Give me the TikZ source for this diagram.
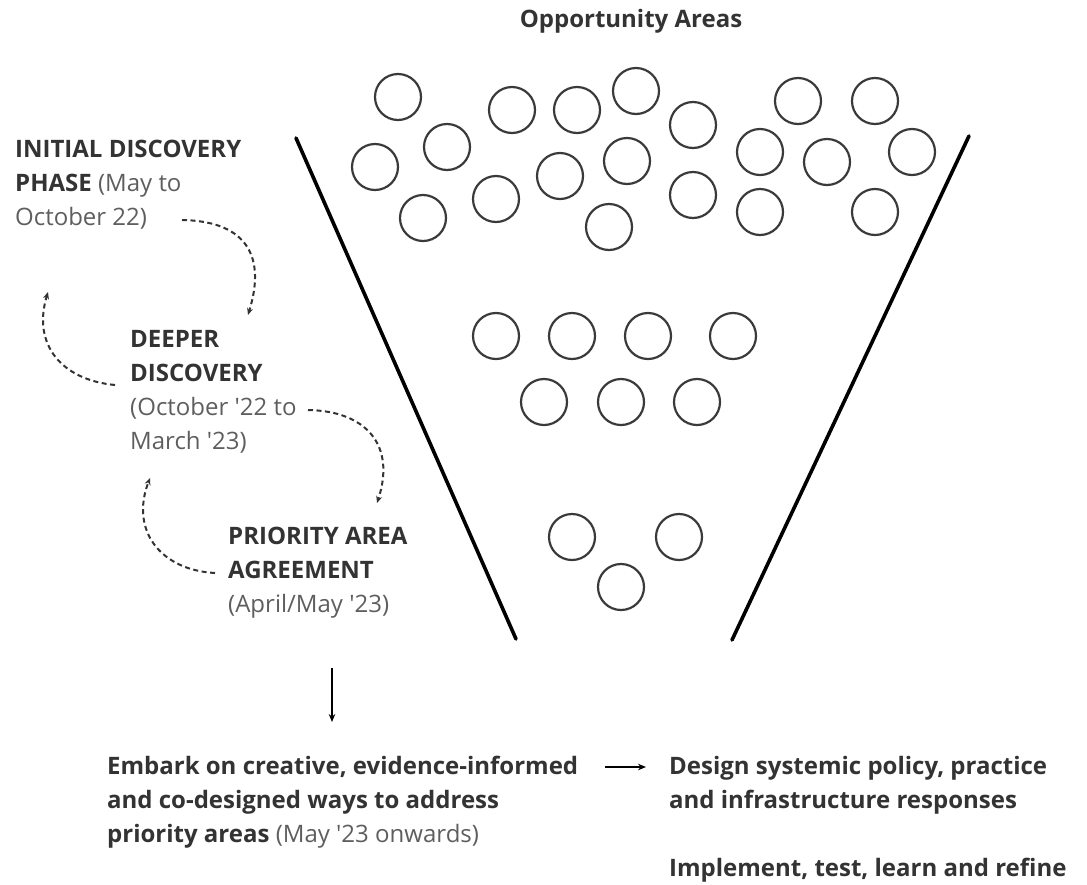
\documentclass[tikz,border=0pt]{standalone}
\usepackage{fontspec}
\setmainfont{Open Sans}
\usetikzlibrary{arrows.meta}
\definecolor{ink}{HTML}{333333}
\definecolor{soft}{HTML}{5E5E5E}
\definecolor{ring}{HTML}{3A3A3A}
\newcommand{\q}{\textquotesingle}
\begin{document}
\begin{tikzpicture}[x=1pt,y=-1pt,
  txt/.style={anchor=base west,align=left,inner sep=0pt,text=ink,font=\fontsize{24}{34}\selectfont},
  opp/.style={circle,draw=ring,line width=2.2pt,minimum size=46pt,inner sep=0pt},
  funnel/.style={line width=3.6pt,line cap=round,black},
  loop/.style={dash pattern=on 5pt off 3.5pt,line width=2pt,ink,-{Stealth[length=7pt,width=6pt]}},
  flow/.style={line width=1.6pt,black,-{Stealth[length=8pt,width=6.5pt]}}]
\useasboundingbox (0,0) rectangle (1087,884);
% title
\node[anchor=base,inner sep=0pt,text=ink,font=\fontsize{24}{34}\selectfont\bfseries] (title) at (631,27) {Opportunity Areas};
% funnel
\coordinate (fl1) at (296,138);
\coordinate (fl2) at (516,639);
\coordinate (fr1) at (969,136);
\coordinate (fr2) at (732,640);
\draw[funnel] (fl1) -- (fl2);
\draw[funnel] (fr1) -- (fr2);
% top circles
\foreach \n/\x/\y in {1/398/97,2/512/110,3/577/110,4/636/91,5/693/125,6/798/101,7/875/101,
  8/375/167,9/447/147,10/560/176,11/627/161,12/760/152,13/827/162,14/912/152,
  15/423/218,16/496/199,17/609/227,18/693/195,19/760/212,20/875/212}
  \node[opp] (t\n) at (\x,\y) {};
% middle circles
\foreach \n/\x/\y in {1/496/336,2/572/336,3/648/336,4/733/336,5/544/402,6/621/402,7/697/402}
  \node[opp] (m\n) at (\x,\y) {};
% bottom circles
\foreach \n/\x/\y in {1/572/537,2/679/537,3/621/587}
  \node[opp] (b\n) at (\x,\y) {};
% phase texts (anchored at the baseline of their last line)
\node[txt] (initial) at (15,225) {\textbf{INITIAL DISCOVERY}\\\textbf{PHASE} \textcolor{soft}{(May to}\\\textcolor{soft}{October 22)}};
\node[txt] (deeper) at (130,449) {\textbf{DEEPER}\\\textbf{DISCOVERY}\\\textcolor{soft}{(October \q22 to}\\\textcolor{soft}{March \q23)}};
\node[txt] (priority) at (228,612) {\textbf{PRIORITY AREA}\\\textbf{AGREEMENT}\\\textcolor{soft}{(April/May \q23)}};
% loop arrows
\coordinate (a1s) at (182,220);
\coordinate (a1e) at (248,315);
\draw[loop] (a1s) .. controls (240,221) and (268,250) .. (a1e);
\coordinate (a2s) at (115,385);
\coordinate (a2e) at (48,292);
\draw[loop] (a2s) .. controls (62,380) and (32,345) .. (a2e);
\coordinate (a3s) at (308,410);
\coordinate (a3e) at (377,503);
\draw[loop] (a3s) .. controls (366,411) and (396,445) .. (a3e);
\coordinate (a4s) at (215,573);
\coordinate (a4e) at (150,478);
\draw[loop] (a4s) .. controls (160,570) and (130,530) .. (a4e);
% outcome texts
\coordinate (d1) at (332,668);
\coordinate (d2) at (332,722);
\draw[flow] (d1) -- (d2);
\node[txt] (embark) at (107,842) {\textbf{Embark on creative, evidence-informed}\\\textbf{and co-designed ways to address}\\\textbf{priority areas} \textcolor{soft}{(May \q23 onwards)}};
\node[txt] (design) at (669,808) {\textbf{Design systemic policy, practice}\\\textbf{and infrastructure responses}};
\node[txt] (implement) at (669,876) {\textbf{Implement, test, learn and refine}};
\coordinate (r1) at (605,767);
\coordinate (r2) at (646,767);
\draw[flow] (r1) -- (r2);
\end{tikzpicture}
\end{document}
